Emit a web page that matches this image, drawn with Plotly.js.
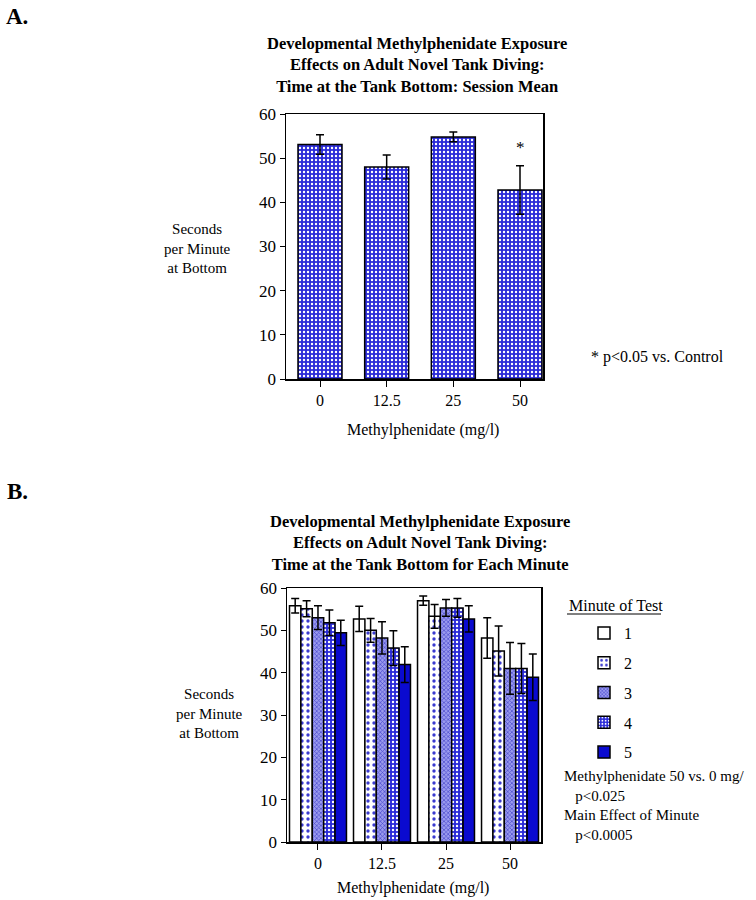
<!DOCTYPE html>
<html>
<head>
<meta charset="utf-8">
<script src="https://cdn.plot.ly/plotly-3.0.1.min.js"></script>
<style>
  html, body { margin: 0; padding: 0; background: #fff; }
  #chart { width: 756px; height: 900px; }
</style>
</head>
<body>
<div id="chart"></div>
<script>
// ---------- Data ----------
const doses = ['0', '12.5', '25', '50'];

// Panel A: session mean
const sessionMean = [53.1, 48.0, 54.8, 42.8];
const sessionSEM  = [2.2, 2.7, 1.1, 5.5];

// Panel B: each minute
const minuteNames = ['1', '2', '3', '4', '5'];
const minute1 = [55.8, 52.7, 57.0, 48.2];
const minute2 = [55.1, 50.0, 53.3, 45.1];
const minute3 = [53.0, 48.2, 55.3, 41.0];
const minute4 = [51.8, 45.8, 55.3, 41.0];
const minute5 = [49.4, 41.9, 52.7, 38.9];
const minute1SEM = [1.7, 3.0, 1.1, 4.8];
const minute2SEM = [1.9, 2.8, 2.8, 5.9];
const minute3SEM = [2.8, 3.8, 2.0, 6.1];
const minute4SEM = [3.0, 4.1, 2.2, 5.9];
const minute5SEM = [3.0, 4.2, 3.1, 5.5];

const titleA = ['Developmental Methylphenidate Exposure', 'Effects on Adult Novel Tank Diving:', 'Time at the Tank Bottom: Session Mean'];
const titleB = ['Developmental Methylphenidate Exposure', 'Effects on Adult Novel Tank Diving:', 'Time at the Tank Bottom for Each Minute'];
const yTitle = ['Seconds', 'per Minute', 'at Bottom'];
const xTitle = 'Methylphenidate (mg/l)';
const sigA = '* p&lt;0.05 vs. Control';
const legendTitle = 'Minute of Test';
const statsB = ['Methylphenidate 50 vs. 0 mg/', '&nbsp;&nbsp;&nbsp;p&lt;0.025', 'Main Effect of Minute', '&nbsp;&nbsp;&nbsp;p&lt;0.0005'];

// ---------- Styles ----------
const FONT = 'Liberation Serif, Times New Roman, serif';
const errStyle = {type: 'data', visible: true, color: '#000', thickness: 1.5, width: 4};

const patterns = [
  {shape: '', bgcolor: '#ffffff', fgcolor: '#ffffff'},
  {shape: '.', bgcolor: '#ffffff', fgcolor: '#3a3ad0', size: 6, solidity: 0.25},
  {shape: 'x', bgcolor: '#9a9aee', fgcolor: '#4848cc', size: 3, solidity: 0.4},
  {shape: '.', bgcolor: '#2a2ad8', fgcolor: '#ffffff', size: 4, solidity: 0.28},
  {shape: '', bgcolor: '#0a0ad0', fgcolor: '#0a0ad0'}
];
const solidColors = ['#ffffff', '#ffffff', '#9a9aee', '#2a2ad8', '#0a0ad0'];

const minuteVals = [minute1, minute2, minute3, minute4, minute5];
const minuteSEMs = [minute1SEM, minute2SEM, minute3SEM, minute4SEM, minute5SEM];

const traces = [];
traces.push({
  type: 'bar', x: doses, y: sessionMean, xaxis: 'x', yaxis: 'y',
  width: 0.66, showlegend: false, hoverinfo: 'skip',
  marker: {
    color: '#2a2ad8',
    line: {color: '#000', width: 1.5},
    pattern: {shape: '.', bgcolor: '#2a2ad8', fgcolor: '#ffffff', size: 4, solidity: 0.28}
  },
  error_y: Object.assign({array: sessionSEM}, errStyle)
});

minuteNames.forEach((name, i) => {
  const p = patterns[i];
  const marker = {color: solidColors[i], line: {color: '#000', width: 1.5}};
  if (p.shape) marker.pattern = p;
  traces.push({
    type: 'bar', name: name, x: doses, y: minuteVals[i], xaxis: 'x2', yaxis: 'y2',
    legendgroup: 'g' + i, marker: marker, hoverinfo: 'skip',
    error_y: Object.assign({array: minuteSEMs[i]}, errStyle)
  });
});

const W = 756, H = 900;
const px = v => v / W;
const py = v => 1 - v / H;

const yaxisBase = {
  range: [0, 60], dtick: 10, tick0: 0, showgrid: false, zeroline: false,
  showline: true, linecolor: '#000', linewidth: 1.5, mirror: true,
  ticks: 'outside', ticklen: 5, tickwidth: 1, tickcolor: '#000',
  tickfont: {family: FONT, size: 17, color: '#000'}, fixedrange: true
};
const xaxisBase = {
  type: 'category', showgrid: false, zeroline: false,
  showline: true, linecolor: '#000', linewidth: 1.5, mirror: true,
  ticks: 'outside', ticklen: 6, tickwidth: 1, tickcolor: '#000',
  tickfont: {family: FONT, size: 16, color: '#000'}, fixedrange: true
};

const ann = (text, x, y, opts) => Object.assign({
  text: text, x: px(x), y: py(y), xref: 'paper', yref: 'paper',
  showarrow: false, font: {family: FONT, size: 16, color: '#000'},
  xanchor: 'center', yanchor: 'middle'
}, opts || {});

const annotations = [
  ann('<b>A.</b>', 17, 16, {font: {family: FONT, size: 23, color: '#000'}}),
  ann('<b>B.</b>', 17, 492, {font: {family: FONT, size: 23, color: '#000'}}),
  ann('<b>' + titleA.join('<br>') + '</b>', 417, 65, {font: {family: FONT, size: 16.5, color: '#000'}}),
  ann('<b>' + titleB.join('<br>') + '</b>', 420, 543, {font: {family: FONT, size: 16.5, color: '#000'}}),
  ann(yTitle.join('<br>'), 197, 248, {font: {family: FONT, size: 15, color: '#000'}}),
  ann(yTitle.join('<br>'), 209, 713, {font: {family: FONT, size: 15, color: '#000'}}),
  ann(xTitle, 423, 430),
  ann(xTitle, 413, 888),
  {text: '*', x: 3, y: 52.5, xref: 'x', yref: 'y', showarrow: false,
   font: {family: FONT, size: 17, color: '#000'}},
  ann(sigA, 589, 357, {xanchor: 'left'}),
  ann(legendTitle, 567, 605, {xanchor: 'left'}),
  ann(statsB.join('<br>'), 562, 805, {xanchor: 'left', align: 'left', font: {family: FONT, size: 15, color: '#000'}})
];

const layout = {
  width: W, height: H,
  margin: {l: 0, r: 0, t: 0, b: 0},
  paper_bgcolor: '#fff', plot_bgcolor: '#fff',
  barmode: 'group', bargap: 0.11, bargroupgap: 0,
  font: {family: FONT, color: '#000'},
  xaxis: Object.assign({}, xaxisBase, {domain: [px(286), px(543)], range: [-0.51, 3.345], anchor: 'y'}),
  yaxis: Object.assign({}, yaxisBase, {domain: [py(379), py(114)], anchor: 'x'}),
  xaxis2: Object.assign({}, xaxisBase, {domain: [px(287), px(541)], range: [-0.484, 3.484], anchor: 'y2'}),
  yaxis2: Object.assign({}, yaxisBase, {domain: [py(842), py(588)], anchor: 'x2'}),
  showlegend: true,
  legend: {
    x: px(584), y: py(616), xanchor: 'left', yanchor: 'top',
    font: {family: FONT, size: 16, color: '#000'},
    tracegroupgap: 6, itemwidth: 30, bgcolor: 'rgba(0,0,0,0)'
  },
  annotations: annotations,
  shapes: [
    {type: 'line', xref: 'paper', yref: 'paper', x0: px(567), x1: px(661), y0: py(614), y1: py(614),
     line: {color: '#000', width: 1}}
  ]
};

Plotly.newPlot('chart', traces, layout, {staticPlot: true, displayModeBar: false});
</script>
</body>
</html>
